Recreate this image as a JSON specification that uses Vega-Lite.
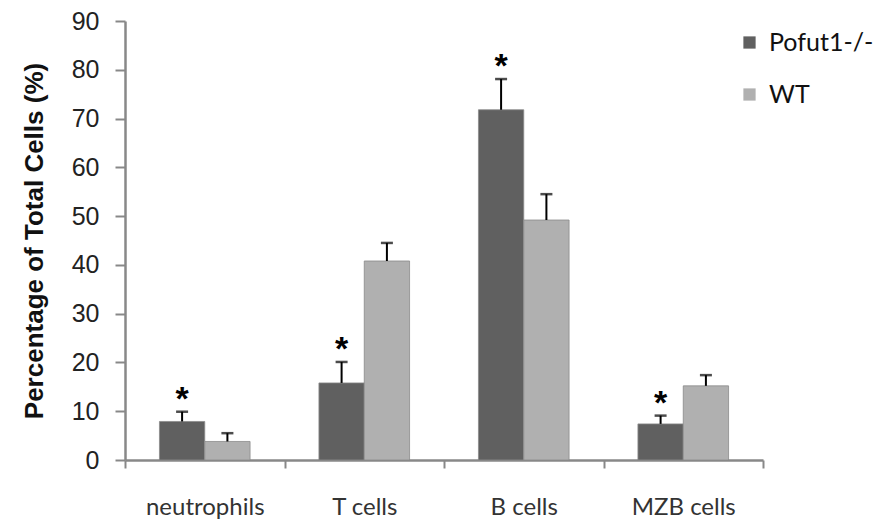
{
  "$schema": "https://vega.github.io/schema/vega-lite/v6.json",
  "width": 638,
  "height": 439,
  "autosize": {"type": "none"},
  "padding": {"left": 125, "top": 21, "right": 122, "bottom": 59},
  "background": "white",
  "config": {"view": {"stroke": null}},
  "data": {
    "values": [
      {"cell": "neutrophils", "group": "Pofut1-/-", "value": 7.9, "err": 9.9, "sig": true},
      {"cell": "neutrophils", "group": "WT", "value": 3.8, "err": 5.5, "sig": false},
      {"cell": "T cells", "group": "Pofut1-/-", "value": 15.8, "err": 20.1, "sig": true},
      {"cell": "T cells", "group": "WT", "value": 40.8, "err": 44.5, "sig": false},
      {"cell": "B cells", "group": "Pofut1-/-", "value": 71.8, "err": 78.1, "sig": true},
      {"cell": "B cells", "group": "WT", "value": 49.2, "err": 54.5, "sig": false},
      {"cell": "MZB cells", "group": "Pofut1-/-", "value": 7.4, "err": 9.1, "sig": true},
      {"cell": "MZB cells", "group": "WT", "value": 15.2, "err": 17.4, "sig": false}
    ]
  },
  "encoding": {
    "x": {
      "field": "cell", "type": "nominal", "sort": null,
      "scale": {"paddingInner": 0, "paddingOuter": 0},
      "axis": {
        "title": null, "labelAngle": 0, "tickBand": "extent",
        "domainColor": "#888888", "domainWidth": 2.5,
        "tickColor": "#888888", "tickWidth": 2, "tickSize": 8,
        "labelFont": "Lato", "labelFontSize": 24, "labelColor": "#333333",
        "labelPadding": 27
      }
    },
    "xOffset": {
      "field": "group", "type": "nominal",
      "scale": {"paddingInner": 0, "paddingOuter": 0.76}
    }
  },
  "layer": [
    {
      "mark": {"type": "bar", "stroke": "#8a8a8a", "strokeWidth": 0.8},
      "encoding": {
        "y": {
          "field": "value", "type": "quantitative",
          "scale": {"domain": [0, 90], "nice": false},
          "axis": {
            "values": [0, 10, 20, 30, 40, 50, 60, 70, 80, 90],
            "grid": false,
            "title": "Percentage of Total Cells (%)",
            "titleFont": "Liberation Sans", "titleFontSize": 26, "titleFontWeight": "bold",
            "titleColor": "#111111", "titlePadding": 24,
            "labelFont": "Liberation Sans", "labelFontSize": 25, "labelColor": "#222222",
            "labelPadding": 16,
            "domainColor": "#888888", "domainWidth": 2.5,
            "tickColor": "#888888", "tickWidth": 2, "tickSize": 10
          }
        },
        "color": {
          "field": "group", "type": "nominal",
          "scale": {"domain": ["Pofut1-/-", "WT"], "range": ["#606060", "#b0b0b0"]},
          "legend": {
            "title": null, "orient": "none", "legendX": 612, "legendY": 9,
            "symbolType": "square", "symbolSize": 150, "symbolStrokeWidth": 0,
            "labelFont": "Lato", "labelFontSize": 25, "labelColor": "#111111",
            "labelOffset": 7, "rowPadding": 26
          }
        }
      }
    },
    {
      "mark": {"type": "rule", "color": "black", "strokeWidth": 2},
      "encoding": {
        "y": {"field": "value", "type": "quantitative"},
        "y2": {"field": "err"}
      }
    },
    {
      "mark": {"type": "tick", "color": "black", "thickness": 2.5, "size": 12},
      "encoding": {
        "y": {"field": "err", "type": "quantitative"}
      }
    },
    {
      "transform": [{"filter": "datum.sig"}],
      "mark": {"type": "text", "text": "*", "font": "Liberation Sans", "fontSize": 34, "fontWeight": "bold", "color": "black", "baseline": "middle", "dy": -12},
      "encoding": {
        "y": {"field": "err", "type": "quantitative"}
      }
    }
  ]
}
